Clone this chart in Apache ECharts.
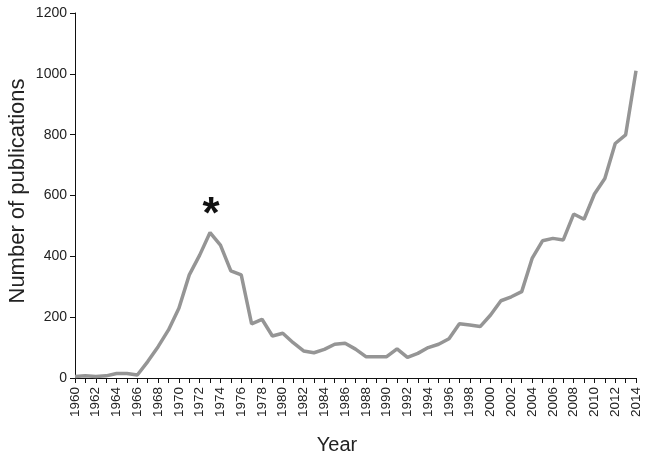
<!DOCTYPE html>
<html><head><meta charset="utf-8">
<script src="https://cdn.jsdelivr.net/npm/echarts@6/dist/echarts.min.js"></script>
<style>html,body{margin:0;padding:0;background:#fff}#c{width:650px;height:461px}</style>
</head><body><div id="c"></div>
<script>
var years = [];
for (var y = 1960; y <= 2014; y++) years.push(String(y));
var publications = [5, 7, 5, 7, 15, 15, 10, 54, 103, 158, 229, 339, 404, 478, 437, 352, 339, 178, 193, 138,
  147, 116, 89, 83, 94, 111, 114, 95, 70, 70, 70, 96, 68, 81, 100, 111, 129, 178, 174, 169,
  207, 254, 267, 284, 393, 451, 459, 454, 539, 522, 605, 656, 771, 799, 1010];
var yTicks = {min: 0, max: 1200, interval: 200};
var markedYear = '1973';
var markedValue = 478;
var yTitle = 'Number of publications';

var font = '"Liberation Sans", Arial, sans-serif';
var chart = echarts.init(document.getElementById('c'));
chart.setOption({
  animation: false,
  grid: {left: 75, right: 14, top: 13, bottom: 83, containLabel: false, outerBoundsMode: 'none'},
  graphic: [{
    type: 'text', x: 18, y: 191, rotation: Math.PI / 2,
    style: {text: yTitle, font: '22px "Liberation Sans", Arial, sans-serif', fill: '#222',
      align: 'center', verticalAlign: 'middle'}
  }],
  xAxis: {
    type: 'category', data: years, boundaryGap: false,
    name: 'Year', nameLocation: 'middle', nameGap: 57,
    nameTextStyle: {fontFamily: font, fontSize: 20, color: '#222', padding: [0, 37, 0, 0]},
    axisLine: {lineStyle: {color: '#111', width: 1}},
    axisTick: {interval: 0, length: 5, lineStyle: {color: '#111'}},
    axisLabel: {interval: 1, rotate: 90, fontFamily: font, fontSize: 13.5, color: '#222', margin: 9},
    splitLine: {show: false}
  },
  yAxis: {
    type: 'value', min: yTicks.min, max: yTicks.max, interval: yTicks.interval,
    axisLine: {show: true, lineStyle: {color: '#111', width: 1}},
    axisTick: {show: true, length: 5, lineStyle: {color: '#111'}},
    axisLabel: {fontFamily: font, fontSize: 14, color: '#222', margin: 8,
      formatter: function (v) { return String(v); }},
    splitLine: {show: false}
  },
  series: [{
    type: 'line', data: publications, symbol: 'none',
    lineStyle: {color: '#959595', width: 3.5},
    markPoint: {
      symbol: 'circle', symbolSize: 0,
      data: [{coord: [markedYear, markedValue]}],
      label: {show: true, formatter: '*', position: 'inside', offset: [1, -17],
        fontFamily: font, fontSize: 44, fontWeight: 'bold', color: '#111'}
    }
  }]
});
</script></body></html>
